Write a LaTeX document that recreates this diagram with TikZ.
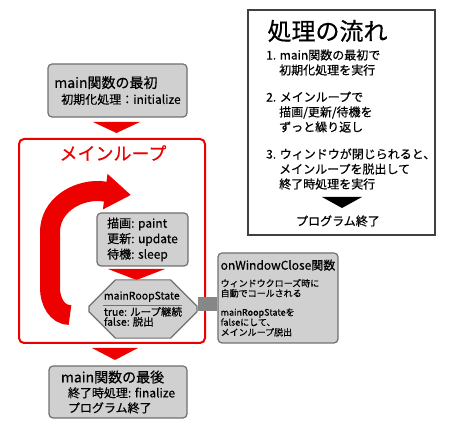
\documentclass[tikz,border=0pt]{standalone}
\usepackage{fontspec}
\setmainfont[FakeBold=0.5]{Noto Sans CJK JP}
\usetikzlibrary{arrows.meta,shapes.misc}
\definecolor{loopred}{RGB}{236,0,0}
\definecolor{boxfill}{RGB}{208,208,208}
\definecolor{boxline}{RGB}{112,112,112}
\definecolor{bargray}{RGB}{135,135,135}
\begin{document}
\begin{tikzpicture}[x=1pt,y=1pt,
    graybox/.style={draw=boxline,fill=boxfill,line width=1.2pt,rounded corners=4pt,
      inner sep=0pt,align=left,font=\fontsize{12}{15}\selectfont},
    flowtext/.style={anchor=west,align=left,inner sep=0pt,font=\fontsize{12}{15}\selectfont}]
  \useasboundingbox (0,0) rectangle (450,430);

  % start and end of main
  \node[graybox,minimum width=139pt,minimum height=53pt] (start) at (117.5,339.5)
    {{\fontsize{14}{16}\selectfont main関数の最初}\\[1pt]
     \hspace*{7pt}初期化処理：initialize};
  \node[graybox,minimum width=138pt,minimum height=52pt] (finish) at (118,38)
    {{\fontsize{14}{16}\selectfont main関数の最後}\\
     \hspace*{7pt}終了時処理: finalize\\
     \hspace*{7pt}プログラム終了};
  \fill[loopred] (93,308) -- (140,308) -- (116.5,297) -- cycle;
  \fill[loopred] (92,82) -- (138,82) -- (115,70) -- cycle;

  % main loop
  \node[draw=loopred,line width=2pt,rounded corners=5pt,minimum width=186pt,
    minimum height=204pt] (loop) at (112,189) {};
  \node[text=loopred,font=\fontsize{18}{20}\selectfont] (looptitle) at (113,277) {メインループ};
  \draw[loopred,line width=20pt,-{Triangle[width=34pt,length=26pt]}]
    (70,115) to[out=180,in=-90] (50,142) -- (50,198)
    to[out=90,in=178] (100,239) -- (131,235);
  \node[graybox,minimum width=91pt,minimum height=53pt,
    font=\fontsize{12}{15.5}\selectfont] (paint) at (142.5,190.5)
    {描画: paint\\更新: update\\待機: sleep};
  \fill[loopred] (108,161) -- (165,161) -- (136.5,150) -- cycle;
  \node[draw=boxline,fill=boxfill,line width=1.2pt,chamfered rectangle,
    chamfered rectangle xsep=15pt,chamfered rectangle ysep=11.5pt,
    minimum width=92pt,minimum height=52pt,inner sep=0pt,align=left,
    font=\fontsize{10.5}{10}\selectfont] (state) at (143,121)
    {mainRoopState\\[4pt]true: ループ継続\\false: 脱出};
  \draw[boxline,line width=0.8pt] ([xshift=-40pt,yshift=4pt]state.center)
    -- ([xshift=39pt,yshift=4pt]state.center);

  % window close handler
  \node[graybox,minimum width=120pt,minimum height=90pt,
    font=\fontsize{9}{10}\selectfont] (close) at (278,132)
    {{\fontsize{12}{14}\selectfont onWindowClose関数}\\[7pt]
     ウィンドウクローズ時に\\自動でコールされる\\[9pt]
     mainRoopStateを\\falseにして、\\メインループ脱出};
  \draw[bargray,line width=14pt] ([yshift=5pt]state.east) -- ([yshift=5pt]state.east -| close.west);

  % flow summary
  \node[draw=black!75,line width=1.5pt,fill=white,minimum width=187pt,
    minimum height=225pt] (flow) at (341.5,307.5) {};
  \node[font=\fontsize{24}{26}\selectfont] (flowtitle) at (327.5,399) {処理の流れ};
  \node[flowtext] (step1) at (266,367.5)
    {1. main関数の最初で\\\hspace*{13pt}初期化処理を実行};
  \node[flowtext] (step2) at (266,318)
    {2. メインループで\\\hspace*{13pt}描画/更新/待機を\\\hspace*{13pt}ずっと繰り返し};
  \node[flowtext] (step3) at (266,261)
    {3. ウィンドウが閉じられると、\\\hspace*{13pt}メインループを脱出して\\\hspace*{13pt}終了時処理を実行};
  \fill (322,233) -- (362,233) -- (342,222) -- cycle;
  \node[font=\fontsize{12}{15}\selectfont] (progend) at (338,209) {プログラム終了};
\end{tikzpicture}
\end{document}
